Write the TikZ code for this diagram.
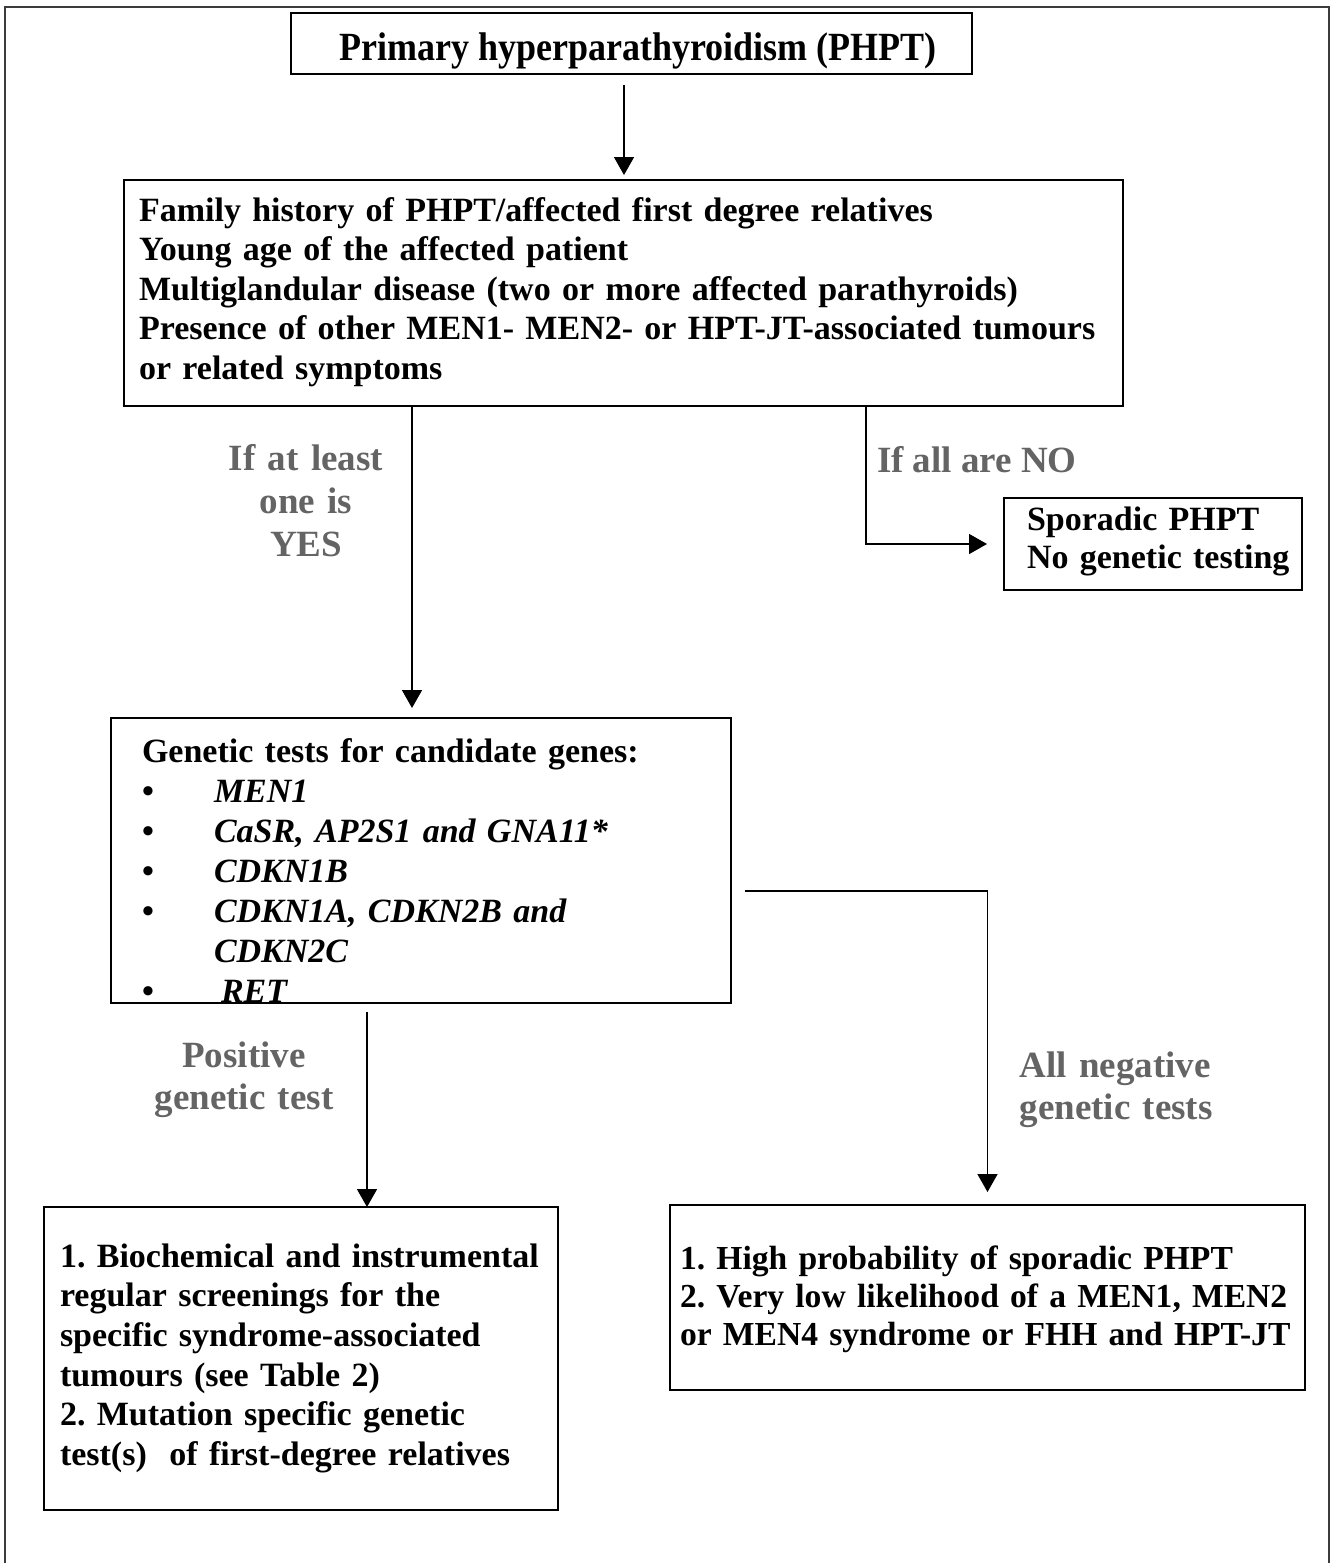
\documentclass[tikz,border=0pt]{standalone}
\usepackage{fontspec}
\usepackage{graphicx}
\setmainfont{Liberation Serif}
\usetikzlibrary{arrows.meta,calc}
\definecolor{lblgray}{RGB}{100,100,100}
\definecolor{framegray}{RGB}{60,60,60}
\newcommand\myfs[2]{\fontsize{#1}{#2}\selectfont}
\frenchspacing
\begin{document}
\begin{tikzpicture}[x=0.5pt,y=-0.5pt,
  box/.style={draw=black, line width=1pt, rectangle, inner sep=0pt, outer sep=0pt},
  txt/.style={inner sep=0pt, outer sep=0pt, anchor=base west, align=left},
  lbl/.style={inner sep=0pt, outer sep=0pt, text=lblgray, font=\bfseries\myfs{18.5}{21}},
  arr/.style={draw=black, line width=0.8pt, -{Triangle[length=9pt,width=10pt]}},
]
\useasboundingbox (0,0) rectangle (1335,1563);
\fill[white] (0,0) rectangle (1335,1563);
\draw[framegray, line width=0.6pt] (5,1575) -- (5,7) -- (1329,7) -- (1329,1575);

% boxes
\node[box, minimum width=340.5pt, minimum height=30.5pt] (b1) at (631.5,43.5) {};
\node[box, minimum width=499.5pt, minimum height=113pt] (b2) at (623.5,293) {};
\node[box, minimum width=310pt, minimum height=142.5pt] (b3) at (421,860.5) {};
\node[box, minimum width=149pt, minimum height=46pt] (b4) at (1153,544) {};
\node[box, minimum width=257pt, minimum height=151.5pt] (b5) at (301,1358.5) {};
\node[box, minimum width=317.5pt, minimum height=92.5pt] (b6) at (987.5,1297.5) {};

% texts
\node[inner sep=0pt, outer sep=0pt, anchor=base, font=\bfseries\myfs{20}{24}] (t1) at (638,61)
  {\scalebox{0.9}[1]{Primary hyperparathyroidism (PHPT)}};
\node[txt, text width=600pt, font=\bfseries\myfs{17}{19.8}] (t2) at (139,221)
  {Family history of PHPT/affected first degree relatives\\
   Young age of the affected patient\\
   Multiglandular disease (two or more affected parathyroids)\\
   Presence of other MEN1- MEN2- or HPT-JT-associated tumours\\
   or related symptoms};
\node[txt, text width=400pt, font=\bfseries\myfs{17}{20}] (t3) at (142,762)
  {Genetic tests for candidate genes:\\
   \makebox[36pt][l]{•}\textit{MEN1}\\
   \makebox[36pt][l]{•}\textit{CaSR, AP2S1 and GNA11*}\\
   \makebox[36pt][l]{•}\textit{CDKN1B}\\
   \makebox[36pt][l]{•}\textit{CDKN1A, CDKN2B and}\\
   \hspace*{36pt}\textit{CDKN2C}\\
   \makebox[36pt][l]{•}\hspace{3.5pt}\textit{RET}};
\node[txt, text width=200pt, font=\bfseries\myfs{17}{19}] (t4) at (1027,530)
  {Sporadic PHPT\\ No genetic testing};
\node[txt, text width=400pt, font=\bfseries\myfs{17}{19.85}] (t5) at (60,1267)
  {1. Biochemical and instrumental\\
   regular screenings for the\\
   specific syndrome-associated\\
   tumours (see Table 2)\\
   2. Mutation specific genetic\\
   test(s)\ \ of first-degree relatives};
\node[txt, text width=450pt, font=\bfseries\myfs{16.8}{19}] (t6) at (680,1269)
  {1. High probability of sporadic PHPT\\
   2. Very low likelihood of a MEN1, MEN2\\
   or MEN4 syndrome or FHH and HPT-JT};

% labels
\node[lbl, text width=120pt, align=center, anchor=base, font=\bfseries\myfs{18.5}{21.5}] (l1) at (306,470)
  {If at least\\ one is\\ YES};
\node[lbl, anchor=base west] (l2) at (877,472) {If all are NO};
\node[lbl, text width=120pt, align=center, anchor=base] (l3) at (244,1067)
  {Positive\\ genetic test};
\node[lbl, text width=150pt, align=left, anchor=base west] (l4) at (1019.5,1077)
  {All negative\\ genetic tests};

% connectors
\coordinate (x1) at (624,0);
\draw[arr, shorten <=5.5pt, shorten >=2.5pt] (b1.south -| x1) -- (b2.north -| x1);
\coordinate (x2) at (412,0);
\draw[arr, shorten >=5pt] (b2.south -| x2) -- (b3.north -| x2);
\coordinate (x3) at (866,0);
\draw[arr, shorten >=8.5pt] (b2.south -| x3) |- (b4.west);
\coordinate (x4) at (367,0);
\draw[arr, shorten <=4.5pt] (b3.south -| x4) -- (b5.north -| x4);
\coordinate (y5) at (0,891);
\draw[arr, shorten <=7pt, shorten >=6.5pt] (b3.east |- y5) -| (b6.north);
\end{tikzpicture}
\end{document}
